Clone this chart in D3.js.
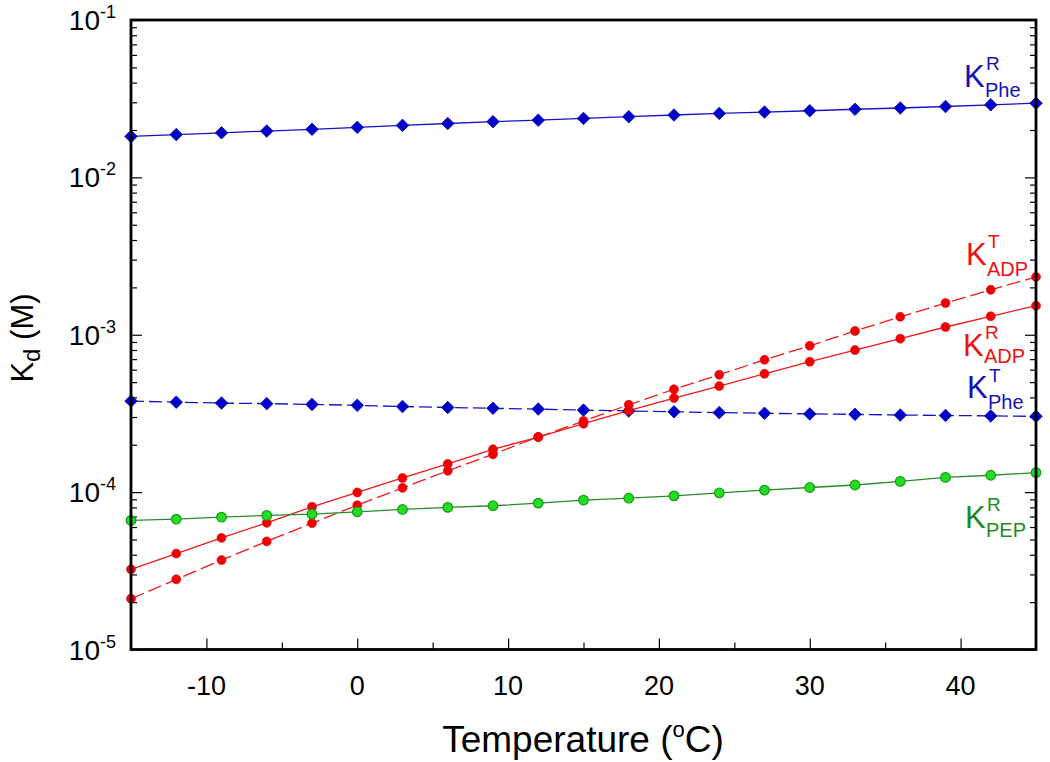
<!DOCTYPE html>
<html>
<head>
<meta charset="utf-8">
<script src="https://cdnjs.cloudflare.com/ajax/libs/d3/7.8.5/d3.min.js"></script>
<style>
  html, body { margin: 0; padding: 0; background: #fff; }
  svg { display: block; font-family: "Liberation Sans", Arial, Helvetica, sans-serif; }
</style>
</head>
<body>
<svg id="chart" width="1050" height="762"></svg>
<script>
// ---- data ----
const temperatures = [-15, -12, -9, -6, -3, 0, 3, 6, 9, 12, 15, 18, 21, 24, 27, 30, 33, 36, 39, 42, 45];

const kPheR = [0.0182, 0.0187, 0.0192, 0.0197, 0.0202, 0.0208, 0.0214, 0.0220, 0.0226, 0.0231, 0.0237,
               0.0243, 0.0249, 0.0255, 0.0260, 0.0265, 0.0271, 0.0276, 0.0282, 0.0289, 0.0296];
const kPheT = [3.79e-4, 3.73e-4, 3.68e-4, 3.65e-4, 3.61e-4, 3.56e-4, 3.50e-4, 3.45e-4, 3.41e-4, 3.37e-4, 3.32e-4,
               3.28e-4, 3.24e-4, 3.20e-4, 3.17e-4, 3.14e-4, 3.12e-4, 3.09e-4, 3.07e-4, 3.05e-4, 3.03e-4];
const kAdpR = [3.23e-5, 4.07e-5, 5.12e-5, 6.38e-5, 8.07e-5, 9.95e-5, 1.23e-4, 1.51e-4, 1.87e-4, 2.24e-4, 2.72e-4,
               3.30e-4, 3.96e-4, 4.72e-4, 5.65e-4, 6.74e-4, 7.99e-4, 9.44e-4, 1.12e-3, 1.31e-3, 1.53e-3];
const kAdpT = [2.10e-5, 2.79e-5, 3.70e-5, 4.86e-5, 6.35e-5, 8.26e-5, 1.064e-4, 1.365e-4, 1.74e-4, 2.24e-4, 2.83e-4,
               3.59e-4, 4.50e-4, 5.57e-4, 6.93e-4, 8.51e-4, 1.057e-3, 1.30e-3, 1.59e-3, 1.93e-3, 2.33e-3];
const kPepR = [6.61e-5, 6.73e-5, 6.93e-5, 7.11e-5, 7.25e-5, 7.50e-5, 7.76e-5, 8.00e-5, 8.19e-5, 8.51e-5, 8.89e-5,
               9.15e-5, 9.47e-5, 9.90e-5, 1.03e-4, 1.07e-4, 1.11e-4, 1.17e-4, 1.24e-4, 1.28e-4, 1.33e-4];

const xTickLabels = [-10, 0, 10, 20, 30, 40];
const xMinorTicks = [-5, 5, 15, 25, 35];
const yDecades = [1e-5, 1e-4, 1e-3, 1e-2, 1e-1];
const yDecadeExponents = ["-5", "-4", "-3", "-2", "-1"];

const seriesKeys   = ["PheR", "PheT", "AdpR", "AdpT", "PepR"];
const seriesSup    = ["R", "T", "R", "T", "R"];
const seriesSub    = ["Phe", "Phe", "ADP", "ADP", "PEP"];

// ---- layout / styles ----
const mLeft = 131, mRight = 1036, mTop = 20, mBottom = 649.5;

const svg = d3.select("#chart");
const x = d3.scaleLinear().domain([-15, 45]).range([mLeft, mRight]);
const y = d3.scaleLog().domain([1e-5, 1e-1]).range([mBottom, mTop]);

const styles = {
  PheR: {vals: kPheR, line: "#1414c8", dash: null, marker: "diamond", fill: "#0000cc", stroke: "#0000aa", text: "#1212b8",
         lx: 964, ly: 87, supOff: 17, subOff: 10},
  PheT: {vals: kPheT, line: "#1414c8", dash: "13,5", marker: "diamond", fill: "#0000cc", stroke: "#0000aa", text: "#1212b8",
         lx: 967, ly: 398, supOff: 16, subOff: 11},
  AdpR: {vals: kAdpR, line: "#f01818", dash: null, marker: "circle", fill: "#f00000", stroke: "#e00000", text: "#ee1111",
         lx: 963, ly: 356, supOff: 17, subOff: 7},
  AdpT: {vals: kAdpT, line: "#f01818", dash: "14,5", marker: "circle", fill: "#f00000", stroke: "#e00000", text: "#ee1111",
         lx: 966, ly: 265, supOff: 17, subOff: 11},
  PepR: {vals: kPepR, line: "#2a8a2a", dash: null, marker: "circleG", fill: "#22dd22", stroke: "#169a16", text: "#1f8a1f",
         lx: 965, ly: 528, supOff: 17, subOff: 9}
};

// minor log ticks
const yMinor = [];
for (let e = -5; e < -1; e++) {
  for (let m = 2; m <= 9; m++) yMinor.push(m * Math.pow(10, e));
}

// ---- axes ticks ----
const tickStroke = 1.2;
function styleAxis(g) {
  g.select(".domain").remove();
  g.selectAll("line").attr("stroke", "#000").attr("stroke-width", tickStroke);
  g.selectAll("text").remove();
}
svg.append("g").attr("transform", `translate(0,${mBottom})`)
  .call(d3.axisBottom(x).tickValues(xTickLabels).tickSize(-11).tickFormat(""))
  .call(styleAxis);
svg.append("g").attr("transform", `translate(0,${mBottom})`)
  .call(d3.axisBottom(x).tickValues(xMinorTicks).tickSize(-7).tickFormat(""))
  .call(styleAxis);
svg.append("g").attr("transform", `translate(${mLeft},0)`)
  .call(d3.axisLeft(y).tickValues(yDecades).tickSize(-11).tickFormat(""))
  .call(styleAxis);
svg.append("g").attr("transform", `translate(${mLeft},0)`)
  .call(d3.axisLeft(y).tickValues(yMinor).tickSize(-6).tickFormat(""))
  .call(styleAxis);
svg.append("g").attr("transform", `translate(${mRight},0)`)
  .call(d3.axisRight(y).tickValues(yDecades).tickSize(-11).tickFormat(""))
  .call(styleAxis);
svg.append("g").attr("transform", `translate(${mRight},0)`)
  .call(d3.axisRight(y).tickValues(yMinor).tickSize(-6).tickFormat(""))
  .call(styleAxis);

// ---- series ----
const lineGen = d3.line().x((d, i) => x(temperatures[i])).y(d => y(d));
const plot = svg.append("g");
seriesKeys.forEach(k => {
  const s = styles[k];
  plot.append("path")
    .attr("d", lineGen(s.vals))
    .attr("fill", "none")
    .attr("stroke", s.line)
    .attr("stroke-width", 1.3)
    .attr("stroke-dasharray", s.dash);
});
seriesKeys.forEach(k => {
  const s = styles[k];
  const g = plot.append("g");
  s.vals.forEach((v, i) => {
    const cx = x(temperatures[i]), cy = y(v);
    if (s.marker === "diamond") {
      g.append("path")
        .attr("d", d3.symbol().type(d3.symbolDiamond2).size(100)())
        .attr("transform", `translate(${cx},${cy})`)
        .attr("fill", s.fill).attr("stroke", s.stroke).attr("stroke-width", 0.8);
    } else if (s.marker === "circleG") {
      g.append("circle").attr("cx", cx).attr("cy", cy).attr("r", 4.8)
        .attr("fill", s.fill).attr("stroke", s.stroke).attr("stroke-width", 1.2);
    } else {
      g.append("circle").attr("cx", cx).attr("cy", cy).attr("r", 4.5)
        .attr("fill", s.fill).attr("stroke", s.stroke).attr("stroke-width", 0.6);
    }
  });
});

// ---- frame ----
svg.append("rect")
  .attr("x", mLeft).attr("y", mTop)
  .attr("width", mRight - mLeft).attr("height", mBottom - mTop)
  .attr("fill", "none").attr("stroke", "#000").attr("stroke-width", 2.8);

// ---- tick labels ----
svg.append("g").selectAll("text").data(xTickLabels).join("text")
  .attr("x", d => x(d))
  .attr("y", 695)
  .attr("text-anchor", "middle")
  .attr("font-size", 27)
  .attr("fill", "#000")
  .text(d => d);

const yl = svg.append("g").selectAll("text").data(yDecades).join("text")
  .attr("x", 116)
  .attr("y", d => y(d) + 10)
  .attr("text-anchor", "end")
  .attr("font-size", 28)
  .attr("fill", "#000");
yl.append("tspan").text("10");
yl.append("tspan").attr("font-size", 18).attr("dy", -12).text((d, i) => yDecadeExponents[i]);

// ---- axis titles ----
const xt = svg.append("text")
  .attr("x", 583).attr("y", 752)
  .attr("text-anchor", "middle")
  .attr("font-size", 37)
  .attr("fill", "#000");
xt.append("tspan").text("Temperature (");
xt.append("tspan").attr("font-size", 22).attr("dy", -15).text("o");
xt.append("tspan").attr("dy", 15).text("C)");

const yt = svg.append("text")
  .attr("transform", "translate(33,338) rotate(-90)")
  .attr("text-anchor", "middle")
  .attr("font-size", 31)
  .attr("fill", "#000");
yt.append("tspan").text("K");
yt.append("tspan").attr("font-size", 24).attr("dy", 7).text("d");
yt.append("tspan").attr("dy", -7).text(" (M)");

// ---- series labels ----
seriesKeys.forEach((k, i) => {
  const s = styles[k];
  const g = svg.append("g").attr("fill", s.text);
  g.append("text").attr("x", s.lx).attr("y", s.ly).attr("font-size", 31).text("K");
  g.append("text").attr("x", s.lx + 22).attr("y", s.ly - s.supOff).attr("font-size", 19).text(seriesSup[i]);
  g.append("text").attr("x", s.lx + 21).attr("y", s.ly + s.subOff).attr("font-size", 20).text(seriesSub[i]);
});
</script>
</body>
</html>
